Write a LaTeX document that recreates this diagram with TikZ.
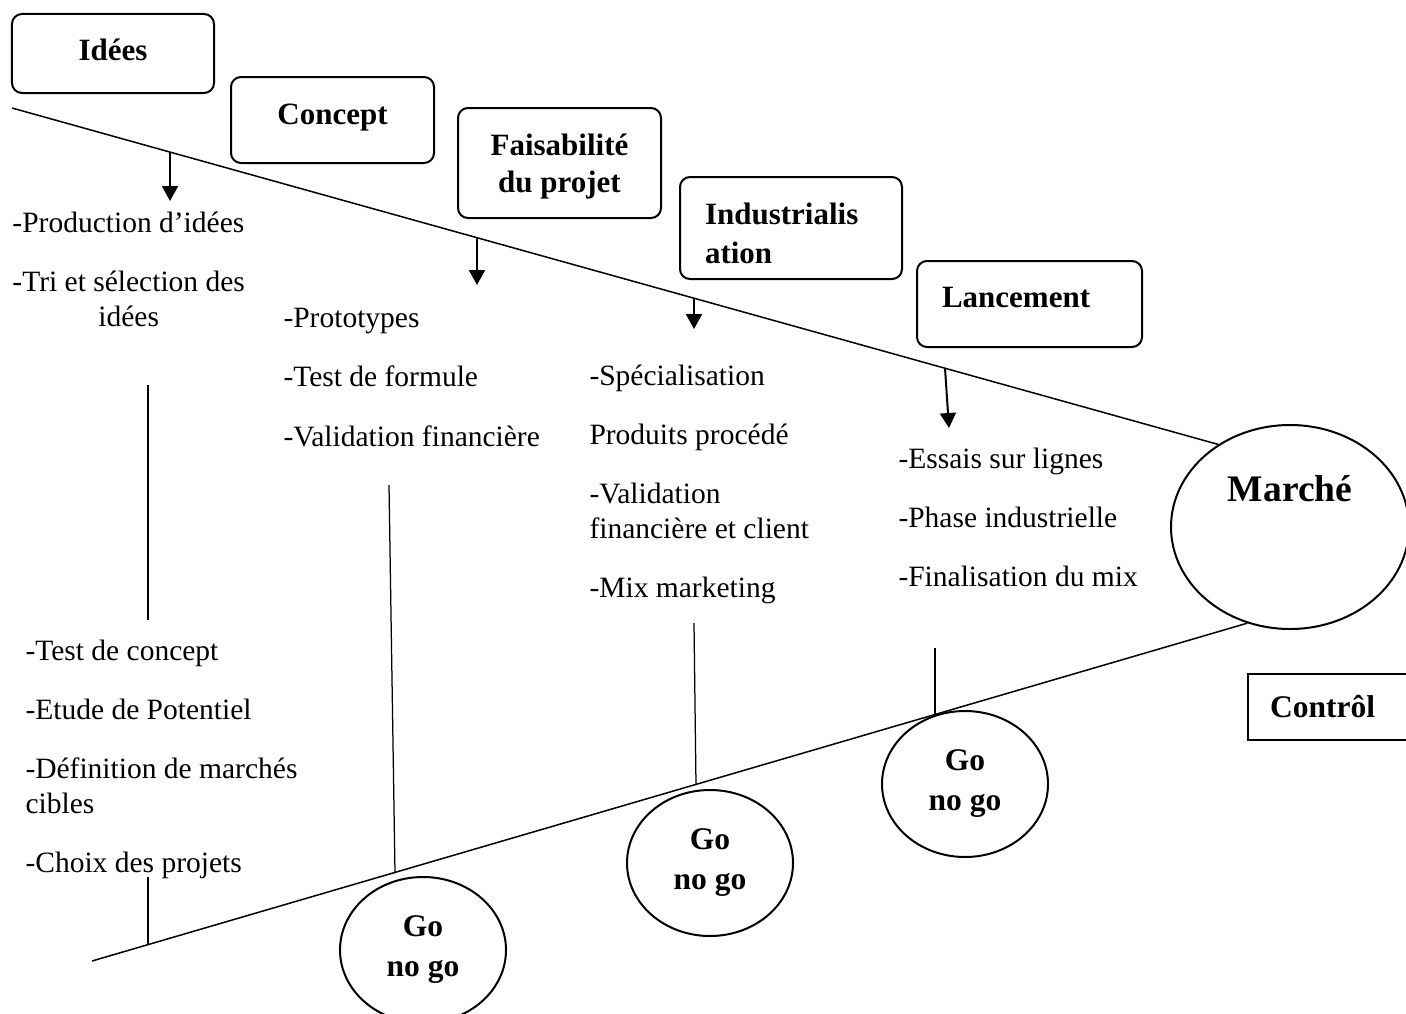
\documentclass[tikz,border=0pt]{standalone}
\usepackage{fontspec}
\setmainfont{Liberation Serif}
\usetikzlibrary{positioning, arrows.meta, shapes.geometric}

\begin{document}
\begin{tikzpicture}[x=0.4pt, y=-0.4pt, node distance=12.1pt]
                % Styles
                \tikzstyle{stage} = [rectangle, rounded corners=4pt, draw=black, line width=0.8pt, align=center, text depth=5pt, font=\bfseries\fontsize{12.4}{14.8}\selectfont]
                \tikzstyle{listitem} = [inner sep=0pt, align=left, text depth=3pt, font=\fontsize{11.8}{14}\selectfont]
                \tikzstyle{gonogo} = [ellipse, draw=black, line width=0.8pt, minimum width=66.4pt, minimum height=58.4pt, align=center, font=\bfseries\fontsize{12.6}{16}\selectfont]
                \tikzstyle{rail} = [line width=0.6pt]
                \tikzstyle{link} = [line width=0.5pt]
                \tikzstyle{arrow} = [line width=0.8pt, -{Triangle[length=6pt, width=6.4pt]}]

                \useasboundingbox (0,0) rectangle (1406,1013);

                % Stages
                \node (ideas) [stage, text depth=3.4pt, minimum width=80.8pt, minimum height=31.6pt] at (113,53.5) {Idées};
                \node (concept) [stage, minimum width=81.2pt, minimum height=34.4pt] at (332.5,120) {Concept};
                \node (feasibility) [stage, text depth=0pt, minimum width=81.2pt, minimum height=44pt] at (559.5,163) {Faisabilité\\du projet};
                \node (industrial) [stage, text depth=11.4pt, text width=68.8pt, inner xsep=10pt, align=left, minimum height=40.8pt, font=\bfseries\fontsize{12.4}{15.6}\selectfont] at (791,228) {Industrialis\\ation};
                \node (launch) [stage, text width=70pt, inner xsep=10pt, align=left, minimum height=34.4pt] at (1029.5,304) {Lancement};
                \node (market) [ellipse, draw=black, line width=0.8pt, minimum width=95.2pt, minimum height=81.6pt, text depth=31pt, font=\bfseries\fontsize{15}{18}\selectfont] at (1290,527) {Marché};
                \node (control) [rectangle, draw=black, line width=0.8pt, anchor=west, minimum height=26.4pt, inner xsep=8.8pt, text width=56pt, align=left, font=\bfseries\fontsize{12.6}{15}\selectfont] at (1247,707) {Contrôl};

                % Lists
                \node (prod) [listitem, anchor=base west] at (12,232) {-Production d’idées};
                \node (sort) [listitem, align=center, below=of prod.south west, anchor=north west] {-Tri et sélection des\\idées};
                \node (conctest) [listitem, anchor=base west] at (25,660) {-Test de concept};
                \node (potential) [listitem, below=of conctest.south west, anchor=north west] {-Etude de Potentiel};
                \node (targets) [listitem, below=of potential.south west, anchor=north west] {-Définition de marchés\\cibles};
                \node (choice) [listitem, below=of targets.south west, anchor=north west] {-Choix des projets};
                \node (proto) [listitem, anchor=base west] at (283,327) {-Prototypes};
                \node (formula) [listitem, below=of proto.south west, anchor=north west] {-Test de formule};
                \node (finval) [listitem, below=of formula.south west, anchor=north west] {-Validation financière};
                \node (special) [listitem, anchor=base west] at (589,385) {-Spécialisation};
                \node (process) [listitem, below=of special.south west, anchor=north west] {Produits procédé};
                \node (clientval) [listitem, below=of process.south west, anchor=north west] {-Validation\\financière et client};
                \node (mix) [listitem, below=of clientval.south west, anchor=north west] {-Mix marketing};
                \node (trials) [listitem, anchor=base west] at (898,468) {-Essais sur lignes};
                \node (indphase) [listitem, below=of trials.south west, anchor=north west] {-Phase industrielle};
                \node (finalmix) [listitem, below=of indphase.south west, anchor=north west] {-Finalisation du mix};

                % Go / no go
                \node (gate1) [gonogo] at (423,950) {Go\\no go};
                \node (gate2) [gonogo] at (710,863) {Go\\no go};
                \node (gate3) [gonogo] at (965,784) {Go\\no go};

                % Rails
                \coordinate (topstart) at (12,108);
                \coordinate (botstart) at (92,961);
                \draw [rail] (topstart) -- (market.131);
                \draw [rail] (botstart) -- (market.246);

                % Arrows
                \coordinate (drop1) at (170,152);
                \coordinate (tip1) at (170,201);
                \coordinate (drop2) at (477,237);
                \coordinate (tip2) at (477,285);
                \coordinate (drop3) at (694,298);
                \coordinate (tip3) at (694,329);
                \coordinate (drop4) at (945,368);
                \coordinate (tip4) at (949,428);
                \draw [arrow] (drop1) -- (tip1);
                \draw [arrow] (drop2) -- (tip2);
                \draw [arrow] (drop3) -- (tip3);
                \draw [arrow] (drop4) -- (tip4);

                % Links
                \coordinate (up1a) at (148,385);
                \coordinate (up1b) at (148,620);
                \coordinate (low1a) at (148,877);
                \coordinate (low1b) at (148,945);
                \coordinate (low2a) at (389,485);
                \coordinate (low2b) at (395,873);
                \coordinate (low3a) at (694,623);
                \coordinate (low3b) at (696,785);
                \coordinate (low4a) at (935,648);
                \coordinate (low4b) at (935,716);
                \draw [link] (up1a) -- (up1b);
                \draw [link] (low1a) -- (low1b);
                \draw [link] (low2a) -- (low2b);
                \draw [link] (low3a) -- (low3b);
                \draw [link] (low4a) -- (low4b);

            \end{tikzpicture}
\end{document}
